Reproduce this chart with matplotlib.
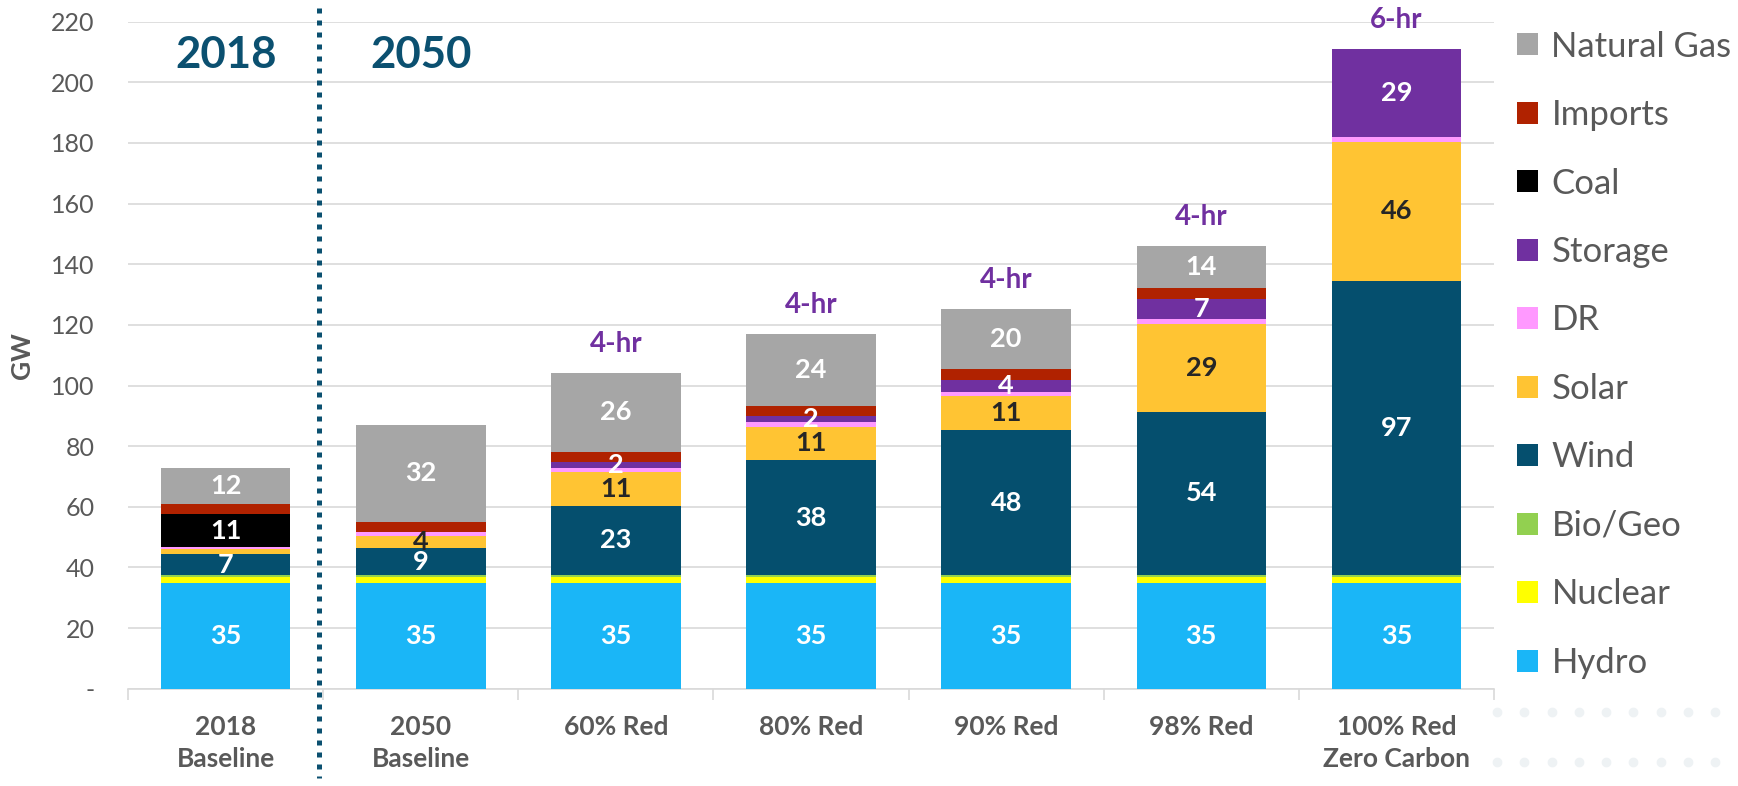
import matplotlib
matplotlib.use("Agg")
import matplotlib.pyplot as plt
import matplotlib.transforms as mtransforms
import numpy as np

plt.rcParams['font.family'] = ['Lato', 'DejaVu Sans']

# categories and stacked series (GW), bottom to top
categories = ['2018\nBaseline', '2050\nBaseline', '60% Red', '80% Red',
              '90% Red', '98% Red', '100% Red\nZero Carbon']
hydro = [35, 35, 35, 35, 35, 35, 35]
nuclear = [2, 2, 2, 2, 2, 2, 2]
biogeo = [0.4, 0.4, 0.4, 0.4, 0.4, 0.4, 0.4]
wind = [7, 9, 23, 38, 48, 54, 97]
solar = [1.8, 3.8, 11, 11, 11, 29, 46]
dr = [0.4, 1.5, 1.5, 1.5, 1.5, 1.5, 1.5]
storage = [0, 0, 2, 2, 4, 6.6, 29]
coal = [11, 0, 0, 0, 0, 0, 0]
imports = [3.3, 3.3, 3.3, 3.2, 3.5, 3.5, 0]
gas = [12, 32, 26, 24, 20, 14, 0]
durations = ['', '', '4-hr', '4-hr', '4-hr', '4-hr', '6-hr']

series = [
    ('Hydro', hydro, '#1AB6F7', 'white'),
    ('Nuclear', nuclear, '#FFFF00', None),
    ('Bio/Geo', biogeo, '#92D050', None),
    ('Wind', wind, '#054F6E', 'white'),
    ('Solar', solar, '#FFC433', '#262626'),
    ('DR', dr, '#FF99FF', None),
    ('Storage', storage, '#7030A0', 'white'),
    ('Coal', coal, '#000000', 'white'),
    ('Imports', imports, '#B02200', None),
    ('Natural Gas', gas, '#A6A6A6', 'white'),
]

teal = '#0B5070'
grey_txt = '#595959'

fig = plt.figure(figsize=(17.38, 7.86), dpi=100)
ax = fig.add_axes([0.0737, 0.1238, 0.7859, 0.8486])

x = np.arange(len(categories))
bottom = np.zeros(len(categories))
handles = []
for name, vals, color, lab_color in series:
    vals = np.array(vals, dtype=float)
    bars = ax.bar(x, vals, 0.664, bottom=bottom, color=color, label=name, zorder=3)
    handles.append(bars)
    if lab_color is not None:
        for xi, v, b in zip(x, vals, bottom):
            if v >= 2:
                ax.text(xi, b + v / 2, f'{v:.0f}', ha='center', va='center',
                        color=lab_color, fontsize=19.5, fontweight='bold', zorder=5)
    bottom = bottom + vals

# storage duration labels above bars
for xi, top, d in zip(x, bottom, durations):
    if d:
        ax.text(xi, top + 9.5, d, ha='center', va='center', color='#7030A0',
                fontsize=20, fontweight='bold', zorder=5)

ax.set_xlim(-0.5, len(categories) - 0.5)
ax.set_ylim(0, 220)
ax.set_yticks(np.arange(0, 221, 20))
ax.set_yticklabels(['-'] + [str(v) for v in range(20, 221, 20)])
ax.yaxis.grid(True, color='#D9D9D9', linewidth=1.2, zorder=0)
ax.set_axisbelow(True)

ax.set_xticks(x)
ax.set_xticklabels(categories, fontsize=19, fontweight='bold', color=grey_txt,
                   linespacing=1.4)
ax.set_xticks(np.arange(-0.5, len(categories), 1), minor=True)
ax.tick_params(axis='x', which='major', length=0, pad=19)
ax.tick_params(axis='x', which='minor', length=8, color='#D9D9D9', width=1.2)
ax.tick_params(axis='y', length=0, pad=24, labelsize=18, labelcolor=grey_txt)

for s in ['top', 'right', 'left']:
    ax.spines[s].set_visible(False)
ax.spines['bottom'].set_color('#D9D9D9')
ax.spines['bottom'].set_linewidth(1.2)

ax.set_ylabel('GW', fontsize=19, fontweight='bold', color=grey_txt, labelpad=12)

# 2018 / 2050 divider
trans = mtransforms.blended_transform_factory(ax.transData, ax.transAxes)
ax.plot([0.48, 0.48], [1.02, -0.134], transform=trans, color=teal, lw=3.6,
        linestyle=(0, (1, 1.4)), clip_on=False, zorder=6)
ax.text(0, 209, '2018', ha='center', va='center', color=teal, fontsize=31.5,
        fontweight='bold')
ax.text(1, 209, '2050', ha='center', va='center', color=teal, fontsize=31.5,
        fontweight='bold')

leg = fig.legend(handles[::-1], [s[0] for s in series][::-1], loc='upper left',
                 bbox_to_anchor=(0.8727, 0.961), frameon=False, fontsize=25,
                 handlelength=0.6, handleheight=0.6, handletextpad=0.4,
                 labelspacing=1.05, borderpad=0, borderaxespad=0)
for t in leg.get_texts():
    t.set_color(grey_txt)

# faint dotted background decoration, bottom right
for yy in [1 - 712 / 786, 1 - 762 / 786]:
    xs = np.arange(1497, 1738, 27.3) / 1738
    fig.lines.append(plt.Line2D(xs, [yy] * len(xs), transform=fig.transFigure,
                                linestyle='none', marker='o', markersize=6,
                                color='#EEF2F4', zorder=0))

fig.savefig('out.png', dpi=100)
